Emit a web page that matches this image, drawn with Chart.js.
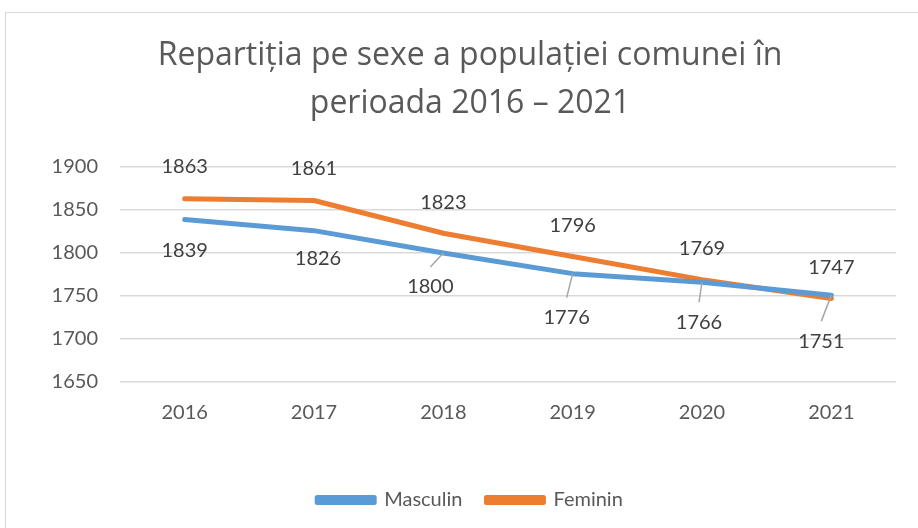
<!DOCTYPE html>
<html>
<head>
<meta charset="utf-8">
<script src="https://cdn.jsdelivr.net/npm/chart.js@4.4.0/dist/chart.umd.min.js"></script>
<style>
html,body{margin:0;padding:0;background:#fff;}
#wrap{position:relative;width:918px;height:528px;}
</style>
</head>
<body>
<div id="wrap"><canvas id="c" width="918" height="528"></canvas></div>
<script>
const categories = ['2016', '2017', '2018', '2019', '2020', '2021'];
const masculin = [1839, 1826, 1800, 1776, 1766, 1751];
const feminin = [1863, 1861, 1823, 1796, 1769, 1747];
const seriesNames = ['Masculin', 'Feminin'];
const titleLines = ['Repartiția pe sexe a populației comunei în', 'perioada 2016 – 2021'];
const yMin = 1650, yMax = 1900, yStep = 50;

// label placement (px offsets from each point) and leader-line flags
const labelOffsets = [
  [[0, 31], [4, 28], [-13, 34], [-6, 44], [-3, 40], [-10, 46]],
  [[0, -32], [0, -32], [0, -31], [0, -31], [0, -31], [0, -31]]
];
const leaders = [
  [false, false, true, true, true, true],
  [false, false, false, false, false, false]
];

const FONT = 'Lato, "Open Sans", sans-serif';
const TITLE_FONT = '"Open Sans", Lato, sans-serif';

const frame = {
  id: 'frame',
  beforeDraw(chart) {
    const ctx = chart.ctx;
    ctx.save();
    ctx.fillStyle = '#fff';
    ctx.fillRect(0, 0, chart.width, chart.height);
    ctx.strokeStyle = '#d9d9d9';
    ctx.lineWidth = 1;
    ctx.strokeRect(5.5, 12.5, 940, 540);
    ctx.restore();
  }
};

const dataLabels = {
  id: 'dataLabels',
  afterDatasetsDraw(chart) {
    const ctx = chart.ctx;
    ctx.save();
    chart.data.datasets.forEach((ds, di) => {
      const meta = chart.getDatasetMeta(di);
      meta.data.forEach((pt, i) => {
        const off = labelOffsets[di][i];
        const lx = pt.x + off[0], ly = pt.y + off[1];
        if (leaders[di][i]) {
          ctx.strokeStyle = '#a6a6a6';
          ctx.lineWidth = 1.5;
          ctx.beginPath();
          ctx.moveTo(lx, ly - 20);
          ctx.lineTo(pt.x, pt.y);
          ctx.stroke();
        }
        ctx.fillStyle = '#404040';
        ctx.font = '20px ' + FONT;
        ctx.textAlign = 'center';
        ctx.textBaseline = 'middle';
        ctx.fillText(String(ds.data[i]), lx, ly);
      });
    });
    ctx.restore();
  }
};

new Chart(document.getElementById('c'), {
  type: 'line',
  data: {
    labels: categories,
    datasets: [
      { label: seriesNames[0], data: masculin, borderColor: '#5B9BD5', backgroundColor: '#5B9BD5' },
      { label: seriesNames[1], data: feminin, borderColor: '#ED7D31', backgroundColor: '#ED7D31' }
    ]
  },
  options: {
    responsive: false,
    animation: false,
    devicePixelRatio: 1,
    layout: { padding: { left: 22, right: 0, top: 0, bottom: 8 } },
    elements: {
      line: { borderWidth: 5, tension: 0, borderCapStyle: 'round', borderJoinStyle: 'round' },
      point: { radius: 0, hoverRadius: 0 }
    },
    scales: {
      x: {
        type: 'category',
        offset: true,
        grid: { display: false, drawTicks: false },
        border: { display: false },
        ticks: { color: '#595959', font: { family: FONT, size: 20 }, padding: 19 },
        afterFit(s) { s.height = 84; }
      },
      y: {
        min: yMin, max: yMax,
        grid: { color: '#d9d9d9', lineWidth: 1.5, drawTicks: false },
        border: { display: false },
        ticks: { stepSize: yStep, color: '#595959', font: { family: FONT, size: 20 }, padding: 22,
                 callback: (v) => String(v) },
        afterFit(s) { s.width = 98; }
      },
      y2: {
        position: 'right',
        display: true,
        grid: { display: false, drawTicks: false },
        border: { display: false },
        ticks: { display: false },
        afterFit(s) { s.width = 22; }
      }
    },
    plugins: {
      title: {
        display: true,
        text: titleLines,
        color: '#595959',
        font: { family: TITLE_FONT, size: 32, weight: 'normal', lineHeight: 1.5 },
        padding: { top: 32, bottom: 39 }
      },
      legend: {
        position: 'bottom',
        labels: {
          color: '#595959',
          font: { family: FONT, size: 20 },
          boxWidth: 57,
          boxHeight: 5,
          padding: 24
        }
      },
      tooltip: { enabled: false }
    }
  },
  plugins: [frame, dataLabels]
});
</script>
</body>
</html>
